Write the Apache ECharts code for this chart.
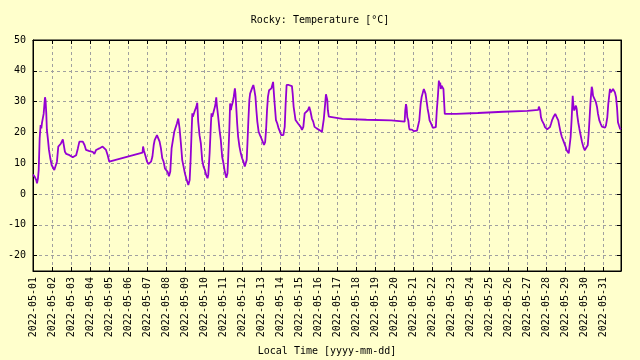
<!DOCTYPE html>
<html>
<head>
<meta charset="utf-8">
<script src="https://cdn.jsdelivr.net/npm/echarts@6/dist/echarts.min.js"></script>
<style>
html,body{margin:0;padding:0;background:#ffffcc;}
#chart{width:640px;height:360px;}
</style>
</head>
<body>
<div id="chart"></div>
<script>
// days since 2022-05-01 00:00 (local time)
var dayOffsets = [
0.00,0.09,0.17,0.21,0.26,0.30,0.35,0.40,0.44,0.47,0.52,0.56,0.59,0.63,0.66,0.70,0.73,0.79,0.84,0.91,0.98,
1.05,1.12,1.19,1.26,1.33,1.40,1.47,1.54,1.57,1.62,1.68,1.75,1.83,1.92,2.01,2.09,2.18,2.27,2.36,2.44,2.53,2.62,
2.71,2.79,2.88,2.97,3.05,3.14,3.23,3.32,3.40,3.49,3.58,3.66,3.75,3.84,3.93,4.01,4.05,4.10,5.76,
5.79,5.84,5.93,6.00,6.07,6.14,6.21,6.28,6.35,6.40,6.45,6.52,6.59,6.66,6.73,6.80,6.87,6.94,7.01,7.08,7.15,7.22,
7.29,7.36,7.43,7.50,7.57,7.64,7.71,7.78,7.85,7.92,7.99,8.06,8.13,8.17,8.24,8.29,
8.34,8.38,8.41,8.47,8.52,8.59,8.64,8.69,8.76,8.83,8.90,8.97,9.04,9.11,9.18,9.22,9.29,9.36,9.39,9.43,9.50,9.57,
9.60,9.64,9.67,9.74,9.81,9.88,9.95,10.02,10.09,10.17,
10.23,10.27,10.32,10.37,10.41,10.44,10.48,10.51,10.56,10.62,10.65,10.69,10.74,10.79,10.86,10.93,11.00,11.07,
11.14,11.19,11.24,11.28,11.33,11.38,11.42,11.47,11.52,11.59,11.63,11.66,11.70,11.75,11.80,11.87,11.94,12.01,
12.08,12.15,12.21,12.26,12.31,12.36,12.42,12.47,12.54,12.59,12.63,12.66,12.71,12.78,12.85,12.92,12.99,13.06,
13.17,13.24,13.29,13.34,13.38,13.45,13.53,13.62,13.66,13.71,13.76,13.81,13.87,13.94,14.01,14.08,14.15,14.22,
14.29,14.34,14.39,14.46,14.53,14.57,14.60,14.67,14.74,14.81,14.92,14.99,15.06,15.13,15.20,15.25,15.30,15.37,
15.41,15.44,15.48,15.51,15.56,15.62,16.28,16.31,17.54,17.63,18.85,18.94,
19.55,19.58,19.62,19.65,19.69,19.74,19.78,19.81,19.86,19.93,19.99,20.04,20.09,20.14,20.20,20.23,20.27,20.32,
20.39,20.44,20.51,20.56,20.62,20.65,20.70,20.76,20.81,20.86,20.93,20.98,21.03,21.12,21.19,21.24,21.30,21.35,
21.38,21.42,21.45,21.49,21.54,21.59,21.63,21.66,22.26,22.29,23.40,23.42,24.74,24.77,26.00,26.04,26.58,26.61,
26.65,26.68,26.72,26.77,26.82,26.88,26.93,26.98,27.05,27.12,27.19,27.25,27.30,27.37,27.42,27.47,27.53,27.58,
27.63,27.68,27.75,27.82,27.89,27.96,28.02,28.07,28.12,28.18,28.23,28.28,28.33,28.39,28.42,28.47,28.53,28.56,
28.60,28.63,28.68,28.74,28.81,28.88,28.95,29.02,29.07,29.12,29.18,29.23,29.28,29.33,29.39,29.42,29.46,29.51,
29.56,29.61,29.67,29.72,29.79,29.86,29.93,30.00,30.09,30.14,30.21,30.26,30.32,30.35,30.40,30.46,30.51,30.56,
30.61,30.67,30.72,30.77,30.82,30.88,30.93
];
var temps = [
6.3,5.6,4.5,3.5,5.0,7.8,18.0,22.4,21.3,23.0,23.5,26.0,28.3,31.4,30.5,26.0,20.8,17.5,14.3,11.6,9.4,
8.6,7.8,8.3,10.5,15.4,14.8,16.4,17.0,17.7,15.9,13.7,13.0,12.6,12.6,12.3,11.9,11.6,12.6,14.8,17.0,17.0,17.0,
15.9,14.3,13.7,13.9,13.7,13.7,13.0,14.3,14.6,14.8,15.1,15.4,14.8,14.3,12.6,10.5,10.2,11.0,13.4,
15.4,14.0,12.1,10.5,9.7,9.1,10.5,12.1,15.9,17.5,17.0,19.1,18.8,17.0,14.8,11.6,10.5,8.3,7.8,7.2,5.8,7.2,
14.8,17.5,20.2,20.8,22.9,24.5,21.3,16.4,11.0,8.9,6.7,5.1,3.7,2.9,4.5,11.0,
19.7,26.2,25.1,25.6,27.2,28.3,29.6,23.5,19.1,16.4,11.0,8.9,7.8,6.2,5.1,6.2,13.2,22.9,26.2,25.1,26.7,28.3,
29.4,31.4,28.9,25.1,20.8,17.5,12.1,9.9,7.2,5.3,
6.7,12.1,19.7,29.4,27.2,28.3,28.9,29.9,31.6,34.3,32.6,28.3,22.9,18.6,15.4,13.2,11.6,10.5,
8.9,9.4,11.0,16.4,24.0,30.5,32.6,33.2,34.3,35.4,34.3,34.8,31.6,27.2,23.5,20.2,19.1,18.1,
17.0,15.9,16.8,20.8,27.2,31.6,33.7,33.2,34.3,34.8,36.4,33.7,29.4,24.0,22.9,21.3,20.2,19.1,
19.1,21.8,29.4,35.4,35.9,35.4,35.4,35.0,32.6,28.3,26.2,24.0,23.5,22.9,22.4,21.8,20.8,21.8,
26.2,26.7,26.2,27.2,28.3,28.9,26.7,24.5,23.5,21.8,21.3,21.0,20.8,20.2,20.2,20.8,24.5,29.4,
32.4,31.6,30.5,27.2,25.1,24.5,24.4,24.1,24.1,23.9,23.9,23.5,
23.5,27.1,29.2,28.2,24.9,23.9,21.7,20.9,21.2,20.9,20.6,20.4,20.6,20.1,20.6,20.1,21.2,23.9,
29.2,31.4,33.0,34.1,34.6,32.5,30.3,27.6,26.0,23.9,23.0,22.3,21.5,21.5,21.7,27.1,31.9,36.8,
35.2,36.2,34.1,35.2,35.7,34.1,34.6,26.0,26.0,26.3,26.3,26.7,26.7,27.0,27.0,27.3,27.3,28.4,
28.2,27.1,24.9,23.9,23.3,22.6,21.7,21.2,21.0,21.2,21.7,22.8,23.9,24.9,24.4,26.0,25.2,25.5,
23.9,22.3,20.1,18.5,17.4,16.9,15.3,14.2,13.7,13.2,13.7,18.5,23.9,31.9,29.2,27.1,27.3,28.7,
27.6,25.5,23.3,21.2,19.0,16.9,15.3,14.2,13.7,14.2,15.8,19.6,24.9,30.3,34.8,34.1,31.9,31.4,
31.4,29.8,28.2,26.0,23.9,22.8,21.9,21.5,21.5,22.3,24.9,29.2,32.5,34.1,33.0,33.0,34.1,34.4,
33.0,31.4,28.2,23.3,22.3,21.2,21.0
];
var titleText = 'Rocky: Temperature [°C]';
var xAxisName = 'Local Time [yyyy-mm-dd]';
var datePrefix = '2022-05-';
var yMin = -25, yMax = 50;
var xMin = 0, xMax = 30.93;

var data = dayOffsets.map(function (d, i) { return [d, temps[i]]; });

var FONT = 'DejaVu Sans Mono';
var gridLine = { show: true, lineStyle: { color: '#a0a0a0', type: [3, 3], width: 1 } };
function isInt(v) { return Math.abs(v - Math.round(v)) < 1e-6; }

var chart = echarts.init(document.getElementById('chart'), null, { renderer: 'canvas' });
chart.setOption({
  backgroundColor: '#ffffcc',
  animation: false,
  title: {
    text: titleText, left: 'center', top: 10,
    textStyle: { fontFamily: FONT, fontSize: 10, fontWeight: 'normal', color: '#000' }
  },
  grid: {
    left: 33, right: 19, top: 40, bottom: 89, containLabel: false, outerBoundsMode: 'none',
    show: true, borderColor: '#000', borderWidth: 1, backgroundColor: 'transparent'
  },
  xAxis: [{
    type: 'value', min: xMin, max: xMax, interval: 1, position: 'bottom',
    name: xAxisName, nameLocation: 'middle', nameGap: 75,
    nameTextStyle: { fontFamily: FONT, fontSize: 10, color: '#000' },
    axisLine: { show: true, onZero: false, lineStyle: { color: '#000', width: 1 } },
    axisTick: { show: true, inside: true, length: 4, lineStyle: { color: '#000' } },
    axisLabel: {
      rotate: 90, margin: 6, fontFamily: FONT, fontSize: 10, color: '#000',
      formatter: function (v) { return isInt(v) ? datePrefix + String(Math.round(v) + 1).padStart(2, '0') : ''; }
    },
    splitLine: gridLine
  }, {
    type: 'value', min: xMin, max: xMax, interval: 1, position: 'top',
    axisLine: { show: true, onZero: false, lineStyle: { color: '#000' } },
    axisTick: { show: true, inside: true, length: 4, lineStyle: { color: '#000' } },
    axisLabel: { show: false }, splitLine: { show: false }
  }],
  yAxis: [{
    type: 'value', min: yMin, max: yMax, splitNumber: 8, position: 'left',
    axisLine: { show: true, onZero: false, lineStyle: { color: '#000', width: 1 } },
    axisTick: { show: true, inside: true, length: 4, lineStyle: { color: '#000' } },
    axisLabel: {
      margin: 7, fontFamily: FONT, fontSize: 10, color: '#000',
      formatter: function (v) { return (v === yMin) ? '' : String(v); }
    },
    splitLine: gridLine
  }, {
    type: 'value', min: yMin, max: yMax, splitNumber: 8, position: 'right',
    axisLine: { show: true, onZero: false, lineStyle: { color: '#000' } },
    axisTick: { show: true, inside: true, length: 4, lineStyle: { color: '#000' } },
    axisLabel: { show: false }, splitLine: { show: false }
  }],
  series: [{
    type: 'line', data: data, xAxisIndex: 0, yAxisIndex: 0,
    showSymbol: false, symbol: 'none',
    lineStyle: { color: '#9400d3', width: 1.8 },
    clip: true
  }]
});
</script>
</body>
</html>
